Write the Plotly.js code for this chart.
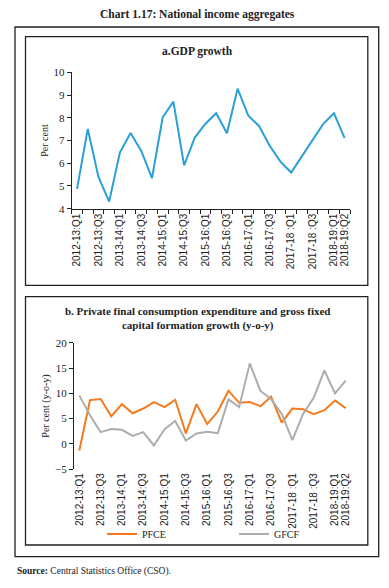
<!DOCTYPE html>
<html>
<head>
<meta charset="utf-8">
<script src="https://cdn.plot.ly/plotly-3.0.1.min.js"></script>
<style>html,body{margin:0;padding:0;background:#fff;}#chart{width:389px;height:588px;}</style>
</head>
<body>
<div id="chart"></div>
<script>
// ---- data ----
var quarters = ["2012-13:Q1","2012-13:Q2","2012-13:Q3","2012-13:Q4",
  "2013-14:Q1","2013-14:Q2","2013-14:Q3","2013-14:Q4",
  "2014-15:Q1","2014-15:Q2","2014-15:Q3","2014-15:Q4",
  "2015-16:Q1","2015-16:Q2","2015-16:Q3","2015-16:Q4",
  "2016-17:Q1","2016-17:Q2","2016-17:Q3","2016-17:Q4",
  "2017-18 :Q1","2017-18 :Q2","2017-18 :Q3","2017-18 :Q4",
  "2018-19:Q1","2018-19:Q2"];
var shownLabels = ["2012-13:Q1","2012-13:Q3","2013-14:Q1","2013-14:Q3","2014-15:Q1",
  "2014-15:Q3","2015-16:Q1","2015-16:Q3","2016-17:Q1","2016-17:Q3","2017-18 :Q1",
  "2017-18 :Q3","2018-19:Q1","2018-19:Q2"];
var gdp = [4.87,7.51,5.4,4.31,6.47,7.33,6.54,5.34,8.02,8.71,5.91,7.13,7.74,8.2,7.32,9.28,
  8.09,7.64,6.77,6.07,5.59,6.29,6.98,7.73,8.2,7.1];
var pfce = [-1.3,8.67,8.87,5.47,7.87,6.07,7.0,8.27,7.27,8.73,2.07,7.87,3.93,6.4,10.53,8.13,
  8.27,7.47,9.33,4.2,7.0,6.87,5.87,6.67,8.6,7.07];
var gfcf = [9.6,5.67,2.33,2.93,2.8,1.6,2.33,-0.3,2.93,4.53,0.67,2.07,2.4,2.13,8.8,7.27,
  15.93,10.47,8.87,5.93,0.73,5.93,9.13,14.53,10.0,12.53];

// ---- layout helpers (page is 389x588, margins 0 so paper == pixels) ----
var W = 389, H = 588;
function px(x){ return x / W; }
function py(y){ return 1 - y / H; }
var serif = "Liberation Serif, Times New Roman, serif";
var sans = "Liberation Sans, Arial, sans-serif";

var tickTextAll = quarters.map(function(q){ return shownLabels.indexOf(q) >= 0 ? q : ""; });

var yaDom = [py(208.7), py(72.3)];
var ybDom = [py(469.2), py(342.8)];
var ybRange = [-5, 20];
var zeroPos = ybDom[0] + (0 - ybRange[0]) / (ybRange[1] - ybRange[0]) * (ybDom[1] - ybDom[0]);

var traces = [
  {x: quarters, y: gdp, type: 'scatter', mode: 'lines', xaxis: 'x', yaxis: 'y',
   line: {color: '#2A9FD8', width: 2}, showlegend: false, name: 'GDP'},
  {x: quarters, y: pfce, type: 'scatter', mode: 'lines', xaxis: 'x2', yaxis: 'y2',
   line: {color: '#F47A20', width: 2}, name: 'PFCE'},
  {x: quarters, y: gfcf, type: 'scatter', mode: 'lines', xaxis: 'x2', yaxis: 'y2',
   line: {color: '#ADADAD', width: 2}, name: 'GFCF'}
];

var axCommon = {showgrid: false, zeroline: false, linecolor: '#222', tickcolor: '#222',
  linewidth: 1, ticklen: 4};

var layout = {
  width: W, height: H,
  margin: {l: 0, r: 0, t: 0, b: 0},
  paper_bgcolor: '#fff', plot_bgcolor: 'rgba(0,0,0,0)',
  hovermode: false,
  xaxis: Object.assign({}, axCommon, {
    domain: [px(71.7), px(350)], anchor: 'y', type: 'category', range: [-0.5, 25.5],
    tickmode: 'array', tickvals: quarters, ticktext: tickTextAll, tickson: 'boundaries',
    ticks: 'outside', showline: true, tickangle: -90,
    tickfont: {family: sans, size: 10, color: '#222'}
  }),
  yaxis: Object.assign({}, axCommon, {
    domain: yaDom, anchor: 'x', range: [4, 10], dtick: 1, ticks: 'outside', showline: true,
    tickfont: {family: serif, size: 11, color: '#222'},
    title: {text: 'Per cent', font: {family: serif, size: 10, color: '#222'}, standoff: 3}
  }),
  xaxis2: Object.assign({}, axCommon, {
    domain: [px(74), px(351)], anchor: 'y2', type: 'category', range: [-0.5, 25.5],
    tickmode: 'array', tickvals: quarters, ticktext: tickTextAll,
    ticks: '', showline: false, tickangle: -90, ticklabelstandoff: 1,
    tickfont: {family: sans, size: 10, color: '#222'}
  }),
  xaxis3: Object.assign({}, axCommon, {
    overlaying: 'x2', anchor: 'free', position: zeroPos, type: 'linear',
    range: [-0.5, 25.5], tickmode: 'linear', tick0: -0.5, dtick: 1,
    ticks: 'outside', showline: true, showticklabels: false
  }),
  yaxis2: Object.assign({}, axCommon, {
    domain: ybDom, anchor: 'x2', range: ybRange, dtick: 5, ticks: 'outside', showline: true,
    tickfont: {family: serif, size: 11, color: '#222'},
    title: {text: 'Per cent (y-o-y)', font: {family: serif, size: 10, color: '#222'}, standoff: 3}
  }),
  showlegend: true,
  legend: {orientation: 'h', x: px(102), y: py(534), xanchor: 'left', yanchor: 'middle',
    entrywidth: 87, entrywidthmode: 'pixels', bgcolor: 'rgba(0,0,0,0)',
    font: {family: serif, size: 10, color: '#222'}},
  annotations: [
    {xref: 'paper', yref: 'paper', x: px(197), y: py(14), yanchor: 'middle', showarrow: false,
     text: '<b>Chart 1.17: National income aggregates</b>',
     font: {family: serif, size: 11.5, color: '#222'}},
    {xref: 'paper', yref: 'paper', x: px(197), y: py(52), yanchor: 'middle', showarrow: false,
     text: '<b>a.GDP growth</b>', font: {family: serif, size: 11.5, color: '#222'}},
    {xref: 'paper', yref: 'paper', x: px(197), y: py(318.5), yanchor: 'middle', showarrow: false,
     text: '<b>b. Private final consumption expenditure and gross fixed<br>capital formation growth (y-o-y)</b>',
     font: {family: serif, size: 11, color: '#222'}},
    {xref: 'paper', yref: 'paper', x: px(15), y: py(571), xanchor: 'left', yanchor: 'middle', showarrow: false,
     text: '<b>Source:</b> Central Statistics Office (CSO).',
     font: {family: serif, size: 9.5, color: '#222'}}
  ],
  shapes: [
    {type: 'rect', xref: 'paper', yref: 'paper', x0: px(15), x1: px(378.7), y0: py(556.7), y1: py(27),
     line: {color: '#222', width: 1.3}},
    {type: 'rect', xref: 'paper', yref: 'paper', x0: px(25.5), x1: px(367.8), y0: py(285.3), y1: py(36.7),
     line: {color: '#222', width: 1.3}},
    {type: 'rect', xref: 'paper', yref: 'paper', x0: px(25.5), x1: px(367.8), y0: py(545), y1: py(296.7),
     line: {color: '#222', width: 1.3}}
  ]
};

Plotly.newPlot('chart', traces, layout, {staticPlot: true, displayModeBar: false});
</script>
</body>
</html>
